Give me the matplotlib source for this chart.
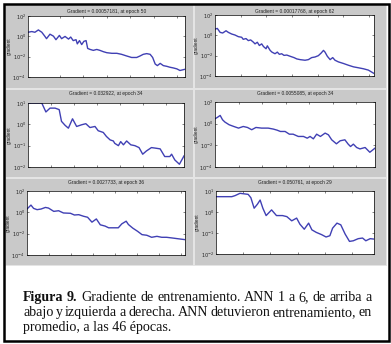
import numpy as np
import matplotlib
matplotlib.use('Agg')
from matplotlib import pyplot as plt
from matplotlib.patches import Rectangle

W, H = 391, 344

titles = [
    "Gradient = 0.00057181, at epoch 50",
    "Gradient = 0.00017768, at epoch 62",
    "Gradient = 0.032922, at epoch 34",
    "Gradient = 0.0055085, at epoch 34",
    "Gradient = 0.0027733, at epoch 36",
    "Gradient = 0.050761, at epoch 29",
]

# epochs and log10(gradient)
epochs_1 = [0, 1.2, 2.2, 3.3, 4.4, 5.4, 5.9, 7.0, 8.1, 8.9, 10.0, 10.7, 11.8, 12.9, 13.6,
            14.4, 15.3, 15.7, 16.4, 17.1, 17.8, 18.5, 19.0, 19.8, 20.8, 21.9, 22.9, 24.0,
            25.1, 26.7, 28.3, 29.8, 31.4, 33.0, 34.6, 35.7, 36.7, 37.8, 38.9, 39.7, 40.5,
            41.2, 42.1, 43.1, 44.2, 45.2, 46.3, 47.4, 48.4, 50]
loggrad_1 = [0.40, 0.47, 0.40, 0.63, 0.40, -0.01, -0.23, 0.21, 0.02, -0.33, 0.09, -0.23,
             -0.01, -0.27, -0.07, -0.42, -0.33, -0.74, -0.42, -0.81, -0.49, -0.42, -1.19,
             -1.29, -1.38, -1.29, -1.38, -1.51, -1.61, -1.67, -1.67, -1.77, -1.93, -2.08,
             -2.08, -1.93, -1.77, -1.70, -1.77, -2.08, -2.72, -2.88, -2.66, -2.88, -2.95,
             -3.04, -3.11, -3.20, -3.36, -3.24]

epochs_2 = [0, 0.9, 2, 3, 4.3, 5.2, 6.5, 7.8, 9.1, 10.4, 11, 12.1, 13, 13.9, 15, 15.6, 16.5,
            17.3, 18.2, 18.9, 19.9, 20.4, 21.5, 22.2, 23.4, 24.3, 25.1, 26, 26.9, 28, 29.3,
            30.8, 31.9, 33.2, 35.1, 36.4, 37.7, 39, 40.3, 41.4, 42.3, 42.9, 43.8, 44.9, 45.9,
            46.8, 48.1, 50.1, 52, 54, 55.9, 57.9, 59.8, 62]
loggrad_2 = [0.61, 0.68, 0.29, 0.23, 0.45, 0.29, 0.13, 0.03, -0.13, -0.19, -0.39, -0.32,
             -0.52, -0.45, -0.68, -0.84, -0.68, -1.0, -0.84, -1.1, -1.32, -1.03, -1.48,
             -1.65, -1.81, -1.65, -1.87, -1.81, -1.97, -1.94, -2.06, -2.19, -2.32, -2.39,
             -2.45, -2.39, -2.19, -2.13, -2.0, -1.74, -1.48, -1.65, -2.06, -2.39, -2.19,
             -2.45, -2.61, -2.77, -2.94, -3.10, -3.19, -3.29, -3.42, -3.75]

epochs_3 = [0, 3, 3.9, 4.8, 5.9, 6.8, 7.3, 8.1, 8.8, 9.7, 10.6, 11.7, 12.6, 13.5, 14.6, 15.3,
            16.4, 17.1, 17.9, 18.6, 18.9, 19.7, 20.2, 20.8, 21.5, 22.4, 23.3, 24.2, 25, 25.8,
            26.9, 27.9, 28.8, 29.8, 30.9, 31.3, 32, 33, 34]
loggrad_3 = [1.0, 1.0, 0.58, 0.76, 0.76, 0.69, 0.14, -0.05, -0.18, 0.26, -0.10, -0.02, 0.03,
             -0.15, -0.10, -0.30, -0.38, -0.57, -0.73, -0.78, -0.89, -1.0, -0.81, -0.96,
             -0.78, -0.96, -1.0, -1.09, -1.40, -1.25, -1.09, -1.12, -1.15, -1.51, -1.51,
             -1.40, -1.67, -1.87, -1.48]

epochs_4 = [0, 0.5, 1.1, 1.6, 2.1, 3, 4, 5, 6, 6.9, 7.8, 8.7, 9.9, 11.3, 12.4, 13.2, 13.9,
            14.9, 15.8, 16.6, 17.7, 18.8, 19.6, 20.2, 20.9, 21.6, 22.4, 23.4, 24.1, 24.8,
            25.8, 26.6, 27.6, 28.3, 28.8, 29.4, 30.1, 30.8, 31.9, 32.9, 34]
loggrad_4 = [0.45, 0.58, 0.76, 0.36, 0.15, -0.10, -0.26, -0.41, -0.26, -0.35, -0.56, -0.35,
             -0.41, -0.41, -0.50, -0.60, -0.72, -0.72, -0.97, -0.97, -1.18, -1.18, -1.34,
             -1.18, -1.40, -0.97, -1.18, -0.87, -1.03, -1.49, -1.86, -1.58, -1.49, -1.89,
             -2.11, -1.89, -2.20, -2.33, -2.20, -2.64, -2.26]

epochs_5 = [0, 0.9, 1.5, 2.3, 3.2, 4.2, 4.9, 6.1, 7.2, 8.3, 9.9, 10.8, 11.8, 12.9, 13.8, 14.8,
            15.8, 16.7, 17.8, 18.6, 19.6, 20.8, 21.6, 22.6, 23.1, 24.1, 25.2, 26.2, 27.3,
            28.4, 29.6, 30.7, 31.8, 33, 34.1, 36]
loggrad_5 = [0.31, 0.68, 0.37, 0.25, 0.31, 0.46, 0.40, 0.09, 0.15, -0.06, -0.09, -0.25,
             -0.22, -0.37, -0.46, -0.92, -0.62, -1.17, -1.29, -1.45, -1.45, -1.45, -1.08,
             -0.83, -1.14, -1.48, -1.78, -2.09, -2.15, -2.34, -2.25, -2.34, -2.34, -2.40,
             -2.46, -2.56]

epochs_6 = [0, 1, 2.9, 3.5, 4.4, 5.3, 5.9, 6.4, 7, 7.6, 8.1, 8.6, 9.2, 10.2, 11.1, 12.2, 13,
            13.9, 14.8, 15.4, 16.2, 17, 17.6, 18.4, 19.4, 20.2, 20.9, 21.4, 22.2, 22.9, 23.7,
            24.5, 25.2, 26.1, 26.9, 27.5, 28.3, 29]
loggrad_6 = [0.73, 0.73, 0.73, 0.78, 0.89, 0.86, 0.84, 0.68, 0.18, 0.37, 0.57, 0.18, -0.17,
             0.10, -0.17, -0.17, -0.22, -0.42, -0.29, -0.58, -0.82, -0.53, -0.85, -0.97,
             -1.08, -1.19, -1.13, -0.77, -0.53, -0.61, -1.05, -1.40, -1.37, -1.27, -1.24,
             -1.37, -1.27, -1.29]

epochs = [epochs_1, epochs_2, epochs_3, epochs_4, epochs_5, epochs_6]
loggrads = [loggrad_1, loggrad_2, loggrad_3, loggrad_4, loggrad_5, loggrad_6]
ydecades = [(-4, 2), (-4, 2), (-2, 1), (-4, 2), (-4, 2), (-2, 1)]
xticks = [[10.2, 17.6, 25.1, 32.5, 40.0, 47.4],
          [10, 20, 30, 40, 50, 60],
          [5, 10, 15, 20, 25, 30],
          [5, 10, 15, 20, 25, 30],
          [5, 10, 15, 20, 25, 30, 35],
          [5, 10, 15, 20, 25]]

caption_1 = "Figura 9. Gradiente de entrenamiento. ANN 1 a 6, de arriba a"
caption_2 = "abajo y izquierda a derecha. ANN detuvieron entrenamiento, en"
caption_3 = "promedio, a las 46 épocas."

# layout in pixels (left, top, right, bottom)
axes_px = [(28, 16, 185, 77), (215, 15, 374, 76),
           (28, 103, 184, 167), (215, 102, 375, 167),
           (27, 191, 185, 255), (216, 191, 374, 254)]
panels_px = [(6, 5, 193, 88), (195, 5, 386, 88),
             (6, 90, 193, 177), (195, 90, 386, 177),
             (6, 179, 193, 265), (195, 179, 386, 265)]
title_y = [11.5, 11.5, 94, 94, 182, 182]


def fx(x):
    return x / W


def fy(y):
    return 1 - y / H


def main():
    fig = plt.figure(figsize=(W / 100, H / 100), dpi=100)
    fig.patch.set_facecolor('white')

    fig.patches.append(Rectangle((fx(5), fy(266)), fx(382), 262 / H,
                                 transform=fig.transFigure, facecolor='#e4e4e4',
                                 edgecolor='none', zorder=-3))
    for (l, t, r, b) in panels_px:
        fig.patches.append(Rectangle((fx(l), fy(b)), fx(r - l), (b - t) / H,
                                     transform=fig.transFigure, facecolor='#c9c9c9',
                                     edgecolor='none', zorder=-2))
    fig.patches.append(Rectangle((fx(3.5), fy(341)), fx(385), 337.5 / H,
                                 transform=fig.transFigure, facecolor='none',
                                 edgecolor='black', linewidth=1.8, zorder=5))

    for i in range(6):
        l, t, r, b = axes_px[i]
        ax = fig.add_axes([fx(l), fy(b), fx(r - l), (b - t) / H])
        grad = 10 ** np.array(loggrads[i])
        ax.semilogy(epochs[i], grad, color='#4040b4', linewidth=1.0)
        lo, hi = ydecades[i]
        ax.set_ylim(10.0 ** lo, 10.0 ** hi)
        ax.set_xlim(0, epochs[i][-1])
        step = 2 if hi - lo > 4 else 1
        yt = list(range(lo, hi + 1, step))
        ax.set_yticks([10.0 ** k for k in yt])
        ax.set_yticklabels(['$10^{%d}$' % k for k in yt])
        ax.yaxis.set_minor_locator(matplotlib.ticker.NullLocator())
        ax.set_xticks(xticks[i])
        ax.set_xticklabels([])
        ax.tick_params(direction='in', length=1.6, width=0.4, labelsize=3.6,
                       pad=1.5, top=True, right=True, colors='#222222')
        for s in ax.spines.values():
            s.set_linewidth(0.5)
        ax.set_ylabel('gradient', fontsize=3.4, labelpad=0.8,
                      family='Liberation Sans', color='#222222')
        fig.text(fx((l + r) / 2), fy(title_y[i]), titles[i], fontsize=3.5,
                 family='Liberation Sans', ha='center', va='center', color='#222222')

    renderer = fig.canvas.get_renderer()
    x0, x1 = 23, 372
    for line, base, nbold in [(caption_1, 301, 2), (caption_2, 316, 0)]:
        words = line.split(' ')
        texts = []
        for j, w in enumerate(words):
            texts.append(fig.text(0, fy(base), w, fontsize=10.1, family='Liberation Serif',
                                  weight='bold' if j < nbold else 'normal',
                                  va='baseline', color='#111111'))
        widths = [t.get_window_extent(renderer).width for t in texts]
        gap = (x1 - x0 - sum(widths)) / (len(words) - 1)
        x = x0
        for t, wd in zip(texts, widths):
            t.set_x(fx(x))
            x += wd + gap
    fig.text(fx(x0), fy(331), caption_3, fontsize=10.1, family='Liberation Serif',
             va='baseline', color='#111111')

    fig.savefig('out.png', dpi=100)


if __name__ == '__main__':
    main()
